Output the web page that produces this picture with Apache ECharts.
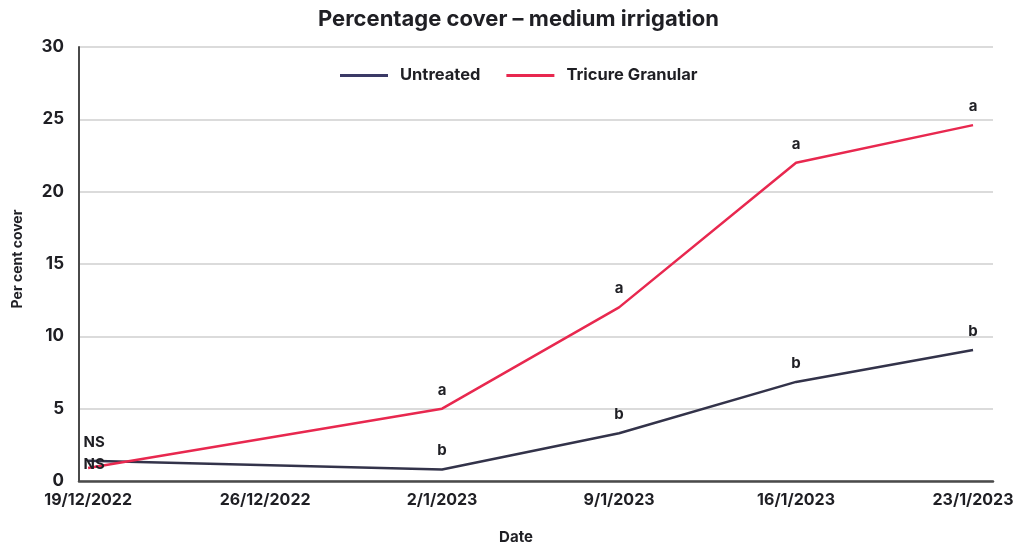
<!DOCTYPE html>
<html>
<head>
<meta charset="utf-8">
<script src="https://cdn.jsdelivr.net/npm/echarts@6/dist/echarts.min.js"></script>
<style>html,body{margin:0;padding:0;background:#fff;overflow:hidden}#c{width:1027px;height:545px}</style>
</head>
<body>
<div id="c"></div>
<script>
// ---- data ----
const dates = ['2022-12-19', '2023-01-02', '2023-01-09', '2023-01-16', '2023-01-23'];
const tickDates = ['2022-12-19', '2022-12-26', '2023-01-02', '2023-01-09', '2023-01-16', '2023-01-23'];
const untreated = [1.4, 0.8, 3.3, 6.85, 9.05];
const tricure = [0.9, 5.0, 12.0, 22.0, 24.6];
const untreatedLetters = ['NS', 'b', 'b', 'b', 'b'];
const tricureLetters = ['NS', 'a', 'a', 'a', 'a'];
const yTicks = [0, 5, 10, 15, 20, 25, 30];

const DAY = 86400e3;
function toTime(s) { const p = s.split('-').map(Number); return new Date(p[0], p[1] - 1, p[2]).getTime(); }
const t0 = toTime(dates[0]);
function toDay(s) { return Math.round((toTime(s) - t0) / DAY); }
function dayLabel(v) { const d = new Date(t0 + v * DAY); return d.getDate() + '/' + (d.getMonth() + 1) + '/' + d.getFullYear(); }

const FONT = 'Inter';
const TXT = '#1f1f24';

const chart = echarts.init(document.getElementById('c'), null, { width: 1027, height: 545 });
function makeData(vals, letters, special) {
  return vals.map((v, i) => {
    const item = { value: [toDay(dates[i]), v] };
    item.label = { show: true, formatter: letters[i] };
    if (i === 0) item.label.offset = special;
    return item;
  });
}
const labelStyle = { show: true, position: 'top', distance: 11, color: TXT, fontFamily: FONT, fontWeight: 700, fontSize: 15 };
const lastDay = toDay(dates[dates.length - 1]);

chart.setOption({
  animation: false,
  backgroundColor: '#fff',
  title: {
    text: 'Percentage cover \u2013 medium irrigation',
    left: 313, top: 3,
    textStyle: { fontFamily: FONT, fontWeight: 700, fontSize: 22, color: TXT }
  },
  legend: {
    top: 62, left: 335,
    icon: 'rect', itemWidth: 48, itemHeight: 3, itemGap: 26,
    textStyle: { fontFamily: FONT, fontWeight: 700, fontSize: 16.5, color: TXT, padding: [0, 0, 0, 7] },
    data: [
      { name: 'Untreated', itemStyle: { color: '#3b3a66' } },
      { name: 'Tricure Granular', itemStyle: { color: '#e8284f' } }
    ]
  },
  grid: { left: 79, right: 34, top: 47, bottom: 64, containLabel: false, outerBoundsMode: 'none' },
  xAxis: {
    type: 'value',
    min: -0.36,
    max: lastDay + 0.79,
    name: 'Date', nameLocation: 'middle', nameGap: 49,
    nameTextStyle: { fontFamily: FONT, fontWeight: 700, fontSize: 15, color: TXT, padding: [0, 40, 0, 0] },
    axisLine: { show: true, onZero: false, lineStyle: { color: '#4a4a4a', width: 2.5 } },
    axisTick: { show: false },
    splitLine: { show: false },
    axisLabel: {
      customValues: tickDates.map(toDay),
      showMinLabel: true, showMaxLabel: true,
      margin: 11,
      fontFamily: FONT, fontWeight: 700, fontSize: 16, color: TXT,
      formatter: dayLabel
    }
  },
  yAxis: {
    type: 'value', min: 0, max: 30, interval: 5,
    name: 'Per cent cover', nameLocation: 'middle', nameGap: 54, nameRotate: 90,
    nameTextStyle: { fontFamily: FONT, fontWeight: 700, fontSize: 14, color: TXT, padding: [0, 0, 0, 10] },
    axisLine: { show: true, onZero: false, lineStyle: { color: '#4a4a4a', width: 2 } },
    axisTick: { show: false },
    splitLine: { show: true, lineStyle: { color: '#cfcfcf', width: 1.5 } },
    axisLabel: {
      margin: 15, fontFamily: FONT, fontWeight: 700, fontSize: 17, color: TXT,
      formatter: function (v) { return yTicks.indexOf(v) >= 0 ? String(v) : ''; }
    }
  },
  series: [
    {
      name: 'Untreated', type: 'line', showSymbol: true, symbol: 'circle', symbolSize: 0,
      itemStyle: { color: '#3b3a66' },
      lineStyle: { color: '#33334a', width: 2.5 },
      label: labelStyle,
      data: makeData(untreated, untreatedLetters, [6, 0])
    },
    {
      name: 'Tricure Granular', type: 'line', showSymbol: true, symbol: 'circle', symbolSize: 0,
      itemStyle: { color: '#e8284f' },
      lineStyle: { color: '#e8284f', width: 2.5 },
      label: labelStyle,
      data: makeData(tricure, tricureLetters, [6, 15])
    }
  ]
});
</script>
</body>
</html>
